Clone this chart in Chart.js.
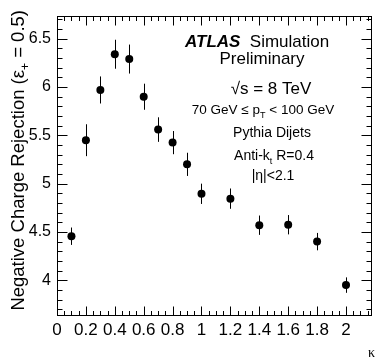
<!DOCTYPE html>
<html>
<head>
<meta charset="utf-8">
<script src="https://cdn.jsdelivr.net/npm/chart.js@4"></script>
<style>
  html, body { margin: 0; padding: 0; background: #fff; }
  #wrap { width: 376px; height: 359px; position: relative; }
</style>
</head>
<body>
<div id="wrap"><canvas id="chartKappa"></canvas></div>
<script>
// jet charge kappa values (x) and negative charge rejection (y)
let kappa = [0.1, 0.2, 0.3, 0.4, 0.5, 0.6, 0.7, 0.8, 0.9, 1.0, 1.2, 1.4, 1.6, 1.8, 2.0];
let rejection = [4.456, 5.45, 5.97, 6.34, 6.29, 5.90, 5.56, 5.425, 5.20, 4.895, 4.845, 4.57, 4.575, 4.40, 3.95];
let rejErr = [0.09, 0.165, 0.14, 0.15, 0.15, 0.135, 0.127, 0.12, 0.12, 0.105, 0.105, 0.1, 0.1, 0.09, 0.08];
let xRange = [0, 2.18];
let yRange = [3.63, 6.74];

const FONT = "'Liberation Sans', Arial, Helvetica, sans-serif";

let points = kappa.map(function(k, i){ return {x: k, y: rejection[i]}; });

// draw a line of text made of pieces (some of them sub/superscript)
function richWidth(ctx, parts){
    let w = 0;
    parts.forEach(function(p){
        ctx.font = p.font;
        w += ctx.measureText(p.t).width;
    });
    return w;
}
function drawRich(ctx, parts, x, y, align){
    let w = richWidth(ctx, parts);
    let cx = x;
    if (align === 'center') cx = x - w/2;
    if (align === 'right') cx = x - w;
    ctx.textAlign = 'left';
    ctx.textBaseline = 'alphabetic';
    parts.forEach(function(p){
        ctx.font = p.font;
        ctx.fillText(p.t, cx, y + (p.dy || 0));
        cx += ctx.measureText(p.t).width;
    });
}

const errorBars = {
    id: 'errorBars',
    beforeDatasetsDraw(chart){
        let ctx = chart.ctx;
        let xs = chart.scales.x, ys = chart.scales.y;
        ctx.save();
        ctx.strokeStyle = '#000';
        ctx.lineWidth = 1;
        for (let i = 0; i < kappa.length; i++) {
            let px = Math.round(xs.getPixelForValue(kappa[i])) + 0.5;
            ctx.beginPath();
            ctx.moveTo(px, ys.getPixelForValue(rejection[i] - rejErr[i]));
            ctx.lineTo(px, ys.getPixelForValue(rejection[i] + rejErr[i]));
            ctx.stroke();
        }
        ctx.restore();
    }
};

const frameAndText = {
    id: 'frameAndText',
    afterDraw(chart){
        let ctx = chart.ctx;
        let a = chart.chartArea;
        let xs = chart.scales.x, ys = chart.scales.y;
        ctx.save();
        ctx.strokeStyle = '#000';
        ctx.lineWidth = 1;
        let L = Math.round(a.left) + 0.5, R = Math.round(a.right) - 0.5;
        let T = Math.round(a.top) + 0.5, B = Math.round(a.bottom) - 0.5;
        ctx.strokeRect(L, T, R - L, B - T);

        // inward ticks, y axis: major 0.5, minor 0.1
        ctx.beginPath();
        for (let k = 37; k <= 67; k++) {
            let v = k / 10;
            if (v < yRange[0] || v > yRange[1]) continue;
            let py = Math.round(ys.getPixelForValue(v)) + 0.5;
            let len = (k % 5 === 0) ? 10 : 5;
            ctx.moveTo(L, py); ctx.lineTo(L + len, py);
            ctx.moveTo(R, py); ctx.lineTo(R - len, py);
        }
        // x axis: major 0.2, minor 0.05
        for (let k = 1; k <= 43; k++) {
            let v = k * 0.05;
            if (v > xRange[1]) continue;
            let px = Math.round(xs.getPixelForValue(v)) + 0.5;
            let len = (k % 4 === 0) ? 9 : 4.5;
            ctx.moveTo(px, B); ctx.lineTo(px, B - len);
            ctx.moveTo(px, T); ctx.lineTo(px, T + len);
        }
        ctx.stroke();

        ctx.fillStyle = '#000';
        // y title, rotated
        ctx.save();
        ctx.translate(24, 10);
        ctx.rotate(-Math.PI / 2);
        let yTitle = [
            {t: 'Negative Charge Rejection (\u03b5', font: '18.5px ' + FONT},
            {t: '+', font: '12px ' + FONT, dy: 5},
            {t: ' = 0.5)', font: '18.5px ' + FONT}
        ];
        drawRich(ctx, yTitle, 0, 0, 'right');
        ctx.restore();

        // x title
        ctx.font = "14px 'Liberation Serif', 'DejaVu Serif', serif";
        ctx.textAlign = 'right';
        ctx.fillText('\u03ba', 375, 357);

        // ATLAS label block
        drawRich(ctx, [
            {t: 'ATLAS', font: 'italic bold 17px ' + FONT},
            {t: '  Simulation', font: '17px ' + FONT}
        ], 185, 47, 'left');
        drawRich(ctx, [{t: 'Preliminary', font: '17px ' + FONT}], 262, 64, 'center');
        drawRich(ctx, [
            {t: '\u221as = 8 TeV', font: '17px ' + FONT}
        ], 271, 94, 'center');
        drawRich(ctx, [
            {t: '70 GeV \u2264 p', font: '13.5px ' + FONT},
            {t: 'T', font: '9px ' + FONT, dy: 4},
            {t: ' < 100 GeV', font: '13.5px ' + FONT}
        ], 263, 114, 'center');
        drawRich(ctx, [{t: 'Pythia Dijets', font: '14px ' + FONT}], 272, 137, 'center');
        drawRich(ctx, [
            {t: 'Anti-k', font: '14px ' + FONT},
            {t: 't', font: '9px ' + FONT, dy: 4},
            {t: ' R=0.4', font: '14px ' + FONT}
        ], 274, 160, 'center');
        drawRich(ctx, [{t: '|\u03b7|<2.1', font: '14px ' + FONT}], 273, 180, 'center');
        ctx.restore();
    }
};

let myChart = new Chart(document.getElementById('chartKappa'), {
    type: 'scatter',
    data: {
        datasets: [{
            label: 'rejection',
            data: points,
            showLine: false,
            pointRadius: 4,
            pointHoverRadius: 4,
            pointBackgroundColor: '#000',
            pointBorderWidth: 0,
        }]
    },
    options: {
        responsive: true,
        maintainAspectRatio: false,
        animation: false,
        layout: { padding: { top: 10, right: 3, left: 0, bottom: 0 } },
        plugins: {
            legend: { display: false },
            tooltip: { enabled: false },
        },
        scales: {
            x: {
                type: 'linear',
                min: xRange[0],
                max: xRange[1],
                grid: { display: false, drawTicks: false },
                border: { display: false },
                ticks: {
                    stepSize: 0.2,
                    includeBounds: false,
                    padding: 4,
                    maxRotation: 0,
                    autoSkip: false,
                    color: '#000',
                    font: { family: FONT, size: 17 },
                    callback: function(v){ return Number(v.toFixed(1)); },
                },
                afterFit: function(s){ s.height = 43; },
            },
            y: {
                type: 'linear',
                min: yRange[0],
                max: yRange[1],
                grid: { display: false, drawTicks: false },
                border: { display: false },
                ticks: {
                    stepSize: 0.5,
                    includeBounds: false,
                    padding: 6,
                    color: '#000',
                    font: { family: FONT, size: 16 },
                    callback: function(v){ return Number(v.toFixed(1)); },
                },
                afterFit: function(s){ s.width = 57; },
            },
        },
    },
    plugins: [errorBars, frameAndText],
});
</script>
</body>
</html>
